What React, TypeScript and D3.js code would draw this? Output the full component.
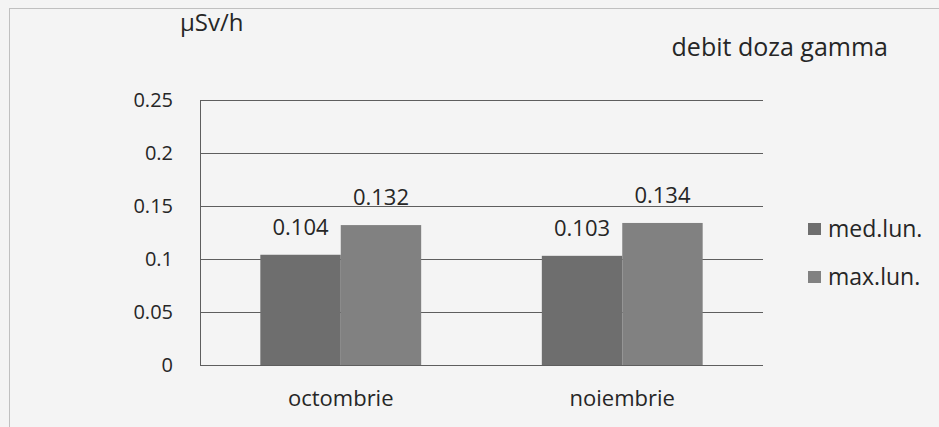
import React from "react";
import * as d3 from "d3";

const categories = ["octombrie", "noiembrie"];
const seriesNames = ["med.lun.", "max.lun."];
const medValues = [0.104, 0.103];
const maxValues = [0.132, 0.134];
const yTicks = [0, 0.05, 0.1, 0.15, 0.2, 0.25];
const yUnit = "μSv/h";
const title = "debit doza gamma";

const W = 939;
const H = 427;
const FONT = "'Open Sans', 'DejaVu Sans', sans-serif";
const colors = ["#6e6e6e", "#818181"];
const TEXT = "#262626";

export default function App() {
  const plot = { left: 200, right: 763, top: 100, bottom: 365 };
  const y = d3.scaleLinear().domain([0, 0.25]).range([plot.bottom, plot.top]);
  const x0 = d3
    .scaleBand<string>()
    .domain(categories)
    .range([plot.left, plot.right])
    .paddingInner(0.4286)
    .paddingOuter(0.2143);
  const x1 = d3
    .scaleBand<string>()
    .domain(seriesNames)
    .range([0, x0.bandwidth()]);
  const series = [medValues, maxValues];

  return (
    <svg
      width={W}
      height={H}
      style={{ position: "absolute", left: 0, top: 0, display: "block" }}
      fontFamily={FONT}
    >
      <rect x={0} y={0} width={W} height={H} fill="#f4f4f4" />
      <rect
        x={9.5}
        y={8.5}
        width={W + 20}
        height={H + 20}
        fill="none"
        stroke="#8c8c8c"
        strokeWidth={1}
        strokeDasharray="1 1"
      />
      <text x={180} y={31} fontSize={24} fill={TEXT}>
        {yUnit}
      </text>
      <text x={888} y={56} fontSize={25} fill={TEXT} textAnchor="end">
        {title}
      </text>
      {yTicks.map((t) => (
        <g key={t}>
          <line
            x1={plot.left}
            x2={plot.right}
            y1={Math.round(y(t)) + 0.5}
            y2={Math.round(y(t)) + 0.5}
            stroke="#5e5e5e"
            strokeWidth={1}
          />
          <text
            x={173}
            y={y(t)}
            dy="0.35em"
            fontSize={20}
            fill={TEXT}
            textAnchor="end"
          >
            {String(t)}
          </text>
        </g>
      ))}
      <line
        x1={plot.left + 0.5}
        x2={plot.left + 0.5}
        y1={plot.top}
        y2={plot.bottom}
        stroke="#5e5e5e"
      />
      {categories.map((c, ci) => (
        <g key={c}>
          {series.map((vals, si) => {
            const bx = (x0(c) ?? 0) + (x1(seriesNames[si]) ?? 0);
            const bw = x1.bandwidth();
            return (
              <g key={si}>
                <rect
                  x={bx}
                  y={y(vals[ci])}
                  width={bw}
                  height={y(0) - y(vals[ci])}
                  fill={colors[si]}
                />
                <text
                  x={bx + bw / 2}
                  y={y(vals[ci]) - 20}
                  fontSize={22}
                  fill={TEXT}
                  textAnchor="middle"
                >
                  {vals[ci].toFixed(3)}
                </text>
              </g>
            );
          })}
          <text
            x={(x0(c) ?? 0) + x0.bandwidth() / 2}
            y={406}
            fontSize={22}
            fill={TEXT}
            textAnchor="middle"
          >
            {c}
          </text>
        </g>
      ))}
      {seriesNames.map((s, i) => (
        <g key={s}>
          <rect x={808} y={223 + i * 48} width={13} height={12} fill={colors[i]} />
          <text x={828} y={237 + i * 48} fontSize={23} fill={TEXT}>
            {s}
          </text>
        </g>
      ))}
    </svg>
  );
}
